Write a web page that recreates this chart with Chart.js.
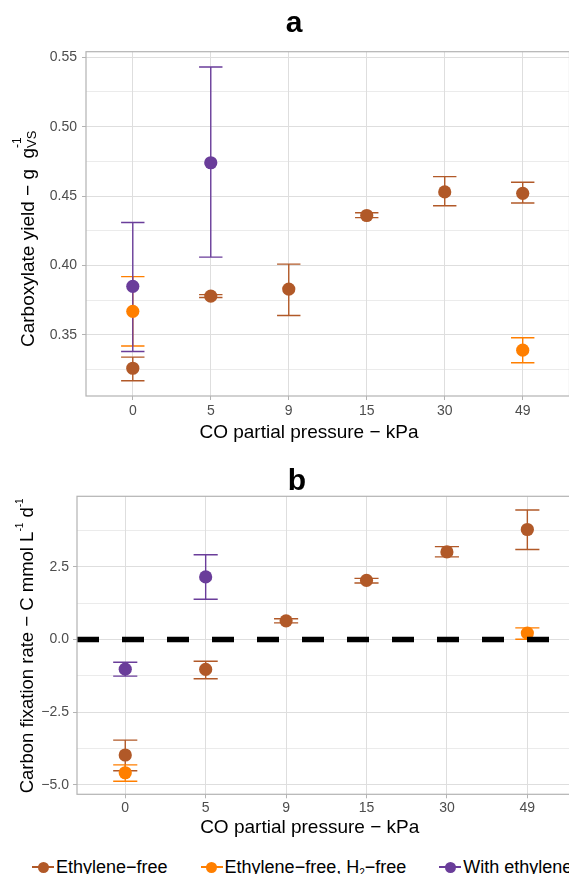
<!DOCTYPE html>
<html>
<head>
<meta charset="utf-8">
<script src="https://cdn.jsdelivr.net/npm/chart.js@4.4.1/dist/chart.umd.min.js"></script>
<style>
  html, body { margin: 0; padding: 0; background: #fff; }
  #wrap { position: relative; width: 569px; height: 874px; overflow: hidden; font-family: 'Liberation Sans', Arial, sans-serif; }
  #chartA { position: absolute; left: 0; top: 0; }
  #chartB { position: absolute; left: 0; top: 450px; }
  #legend { position: absolute; left: 32px; top: 858px; display: flex; gap: 33px; font-size: 18px; line-height: 18px; color: #000; white-space: nowrap; }
  .item { display: flex; align-items: center; height: 18px; }
  .key { position: relative; width: 22px; height: 12px; margin-right: 2px; flex: none; }
  .key::before { content: ''; position: absolute; left: 0; right: 0; top: 5px; height: 2px; background: var(--c); }
  .key::after { content: ''; position: absolute; left: 5.5px; top: 0.5px; width: 11px; height: 11px; border-radius: 50%; background: var(--c); }
  .sub { font-size: 10px; line-height: 0; position: relative; top: 3px; }
</style>
</head>
<body>
<div id="wrap">
  <canvas id="chartA" width="588" height="450"></canvas>
  <canvas id="chartB" width="594" height="400"></canvas>
  <div id="legend"></div>
</div>
<script>
const FONT = "'Liberation Sans', Arial, sans-serif";

// categories (CO partial pressure, kPa)
const categories = ['0', '5', '9', '15', '30', '49'];
const seriesNames = ['Ethylene−free', 'Ethylene−free, H₂−free', 'With ethylene'];
const seriesColors = ['#B15928', '#FF7F00', '#6A3D9A'];

// panel a - carboxylate yield
const yieldFree = [0.326, 0.378, 0.383, 0.436, 0.453, 0.452];
const yieldFreeLow = [0.317, 0.377, 0.364, 0.4345, 0.443, 0.445];
const yieldFreeHigh = [0.334, 0.379, 0.401, 0.438, 0.464, 0.460];
const yieldH2Free = [0.367, null, null, null, null, 0.339];
const yieldH2FreeLow = [0.342, null, null, null, null, 0.330];
const yieldH2FreeHigh = [0.392, null, null, null, null, 0.348];
const yieldEthylene = [0.385, 0.474, null, null, null, null];
const yieldEthyleneLow = [0.338, 0.406, null, null, null, null];
const yieldEthyleneHigh = [0.431, 0.543, null, null, null, null];
const yRangeA = [0.306, 0.554];
const yTicksA = [0.35, 0.40, 0.45, 0.50, 0.55];
const yTickLabelsA = ['0.35', '0.40', '0.45', '0.50', '0.55'];
const yMinorA = [0.325, 0.375, 0.425, 0.475, 0.525];

// panel b - carbon fixation rate
const rateFree = [-3.97, -1.03, 0.64, 2.03, 3.01, 3.78];
const rateFreeLow = [-4.51, -1.35, 0.57, 1.94, 2.84, 3.09];
const rateFreeHigh = [-3.46, -0.75, 0.71, 2.10, 3.19, 4.45];
const rateH2Free = [-4.58, null, null, null, null, 0.22];
const rateH2FreeLow = [-4.87, null, null, null, null, 0.01];
const rateH2FreeHigh = [-4.31, null, null, null, null, 0.40];
const rateEthylene = [-1.02, 2.15, null, null, null, null];
const rateEthyleneLow = [-1.26, 1.38, null, null, null, null];
const rateEthyleneHigh = [-0.78, 2.91, null, null, null, null];
const yRangeB = [-5.32, 4.92];
const yTicksB = [-5, -2.5, 0, 2.5];
const yTickLabelsB = ['−5.0', '−2.5', '0.0', '2.5'];
const yMinorB = [-3.75, -1.25, 1.25, 3.75];
const zeroLine = 0;

const capWidth = 0.3; // errorbar width in category units

function points(vals, lo, hi) {
    return vals.map((v, i) => ({ x: i, y: v, lo: lo[i], hi: hi[i] })).filter(p => p.y !== null);
}

function makeDatasets(groups) {
    return groups.map((g, k) => ({
        label: seriesNames[k],
        data: points(g[0], g[1], g[2]),
        backgroundColor: seriesColors[k],
        borderColor: seriesColors[k],
        borderWidth: 0,
        pointRadius: 6.6,
        pointHoverRadius: 6.6,
        showLine: false,
        order: 2 - k
    }));
}

// draws text made of pieces (sub/superscripts), optionally rotated
function drawRich(ctx, parts, x, y, angle, anchor) {
    ctx.save();
    ctx.translate(x, y);
    ctx.rotate(angle);
    ctx.textBaseline = 'alphabetic';
    ctx.textAlign = 'left';
    ctx.fillStyle = '#000';
    let groupStart = 0, groupEnd = 0;
    const placed = parts.map(p => {
        ctx.font = `${p.size}px ${FONT}`;
        const w = ctx.measureText(p.text).width;
        const start = p.stack ? groupStart : groupEnd;
        if (!p.stack) groupStart = start;
        groupEnd = Math.max(groupEnd, start + w);
        return { p, start };
    });
    const off = anchor === 'center' ? -groupEnd / 2 : 0;
    placed.forEach(({ p, start }) => {
        ctx.font = `${p.size}px ${FONT}`;
        ctx.fillText(p.text, start + off, -(p.rise || 0));
    });
    ctx.restore();
}

const errorBars = {
    id: 'errorBars',
    beforeDatasetsDraw(chart) {
        const { ctx } = chart;
        const xs = chart.scales.x, ys = chart.scales.y;
        chart.data.datasets.forEach(ds => {
            ctx.save();
            ctx.strokeStyle = ds.borderColor;
            ctx.lineWidth = 1.4;
            ds.data.forEach(p => {
                const x = xs.getPixelForValue(p.x);
                const half = xs.getPixelForValue(p.x + capWidth / 2) - x;
                const yl = ys.getPixelForValue(p.lo), yh = ys.getPixelForValue(p.hi);
                ctx.beginPath();
                ctx.moveTo(x, yl); ctx.lineTo(x, yh);
                ctx.moveTo(x - half, yl); ctx.lineTo(x + half, yl);
                ctx.moveTo(x - half, yh); ctx.lineTo(x + half, yh);
                ctx.stroke();
            });
            ctx.restore();
        });
    }
};

const frame = {
    id: 'frame',
    afterDatasetsDraw(chart, args, opts) {
        const { ctx, chartArea: a } = chart;
        if (opts.zero !== undefined) {
            const y = chart.scales.y.getPixelForValue(opts.zero);
            ctx.save();
            ctx.strokeStyle = '#000';
            ctx.lineWidth = 5.5;
            ctx.setLineDash([22, 23]);
            ctx.beginPath();
            ctx.moveTo(a.left, y);
            ctx.lineTo(a.right, y);
            ctx.stroke();
            ctx.restore();
        }
        ctx.save();
        ctx.strokeStyle = '#b3b3b3';
        ctx.lineWidth = 1.2;
        ctx.strokeRect(a.left, a.top, a.right - a.left, a.bottom - a.top);
        ctx.restore();
    },
    afterDraw(chart, args, opts) {
        const { ctx } = chart;
        drawRich(ctx, opts.yTitle, opts.yTitlePos[0], opts.yTitlePos[1], -Math.PI / 2, 'start');
        drawRich(ctx, opts.xTitle, opts.xTitlePos[0], opts.xTitlePos[1], 0, 'center');
    }
};

function makeChart(id, cfg) {
    const major = cfg.ticks, minor = cfg.minor;
    const isMajor = c => c.tick && major.includes(c.tick.value);
    return new Chart(document.getElementById(id), {
        type: 'scatter',
        data: { datasets: cfg.datasets },
        plugins: [errorBars, frame],
        options: {
            responsive: false,
            animation: false,
            events: [],
            layout: { padding: 0 },
            plugins: {
                legend: { display: false },
                tooltip: { enabled: false },
                title: {
                    display: true, text: cfg.title, color: '#000',
                    font: { family: FONT, size: 30, weight: 'bold', lineHeight: 1 },
                    padding: cfg.titlePad
                },
                frame: cfg.frame
            },
            scales: {
                x: {
                    type: 'linear',
                    min: -0.6, max: categories.length - 0.4,
                    afterBuildTicks: s => { s.ticks = categories.map((c, i) => ({ value: i })); },
                    ticks: {
                        callback: v => categories[v], color: '#4d4d4d',
                        font: { family: FONT, size: 14 }, padding: cfg.xPad,
                        autoSkip: false, maxRotation: 0
                    },
                    grid: { color: '#dedede', lineWidth: 1, tickLength: 4, tickColor: '#b3b3b3' },
                    border: { display: false },
                    afterFit: s => { s.height = cfg.xHeight; }
                },
                y: {
                    min: cfg.range[0], max: cfg.range[1], bounds: 'data',
                    afterBuildTicks: s => {
                        s.ticks = major.concat(minor).sort((a, b) => a - b).map(v => ({ value: v }));
                    },
                    ticks: {
                        callback: v => { const k = major.indexOf(v); return k >= 0 ? cfg.labels[k] : ''; },
                        color: '#4d4d4d', font: { family: FONT, size: 14 }, padding: cfg.yPad
                    },
                    grid: {
                        color: '#dedede',
                        lineWidth: c => isMajor(c) ? 1 : 0.6,
                        tickLength: 4,
                        tickColor: c => isMajor(c) ? '#b3b3b3' : 'rgba(0,0,0,0)'
                    },
                    border: { display: false },
                    afterFit: s => { s.width = cfg.yWidth; }
                },
                pad: {
                    type: 'linear', position: 'right', display: true,
                    grid: { display: false, drawTicks: false },
                    ticks: { display: false },
                    border: { display: false },
                    afterFit: s => { s.width = cfg.rightPad; }
                }
            }
        }
    });
}

const xTitleText = [{ text: 'CO partial pressure − kPa', size: 19 }];

makeChart('chartA', {
    title: 'a',
    titlePad: { top: 8.9, bottom: 12.8 },
    datasets: makeDatasets([
        [yieldFree, yieldFreeLow, yieldFreeHigh],
        [yieldH2Free, yieldH2FreeLow, yieldH2FreeHigh],
        [yieldEthylene, yieldEthyleneLow, yieldEthyleneHigh]
    ]),
    range: yRangeA, ticks: yTicksA, labels: yTickLabelsA, minor: yMinorA,
    xHeight: 54, xPad: 3, yWidth: 86, yPad: 5, rightPad: 18.5,
    frame: {
        yTitle: [
            { text: 'Carboxylate yield − g  g', size: 19 },
            { text: 'VS', size: 13, rise: -2.5 },
            { text: '-1', size: 12, rise: 12.5, stack: true }
        ],
        yTitlePos: [33.5, 347],
        xTitle: xTitleText,
        xTitlePos: [309, 437.5]
    }
});

makeChart('chartB', {
    title: 'b',
    titlePad: { top: 16.3, bottom: 0 },
    datasets: makeDatasets([
        [rateFree, rateFreeLow, rateFreeHigh],
        [rateH2Free, rateH2FreeLow, rateH2FreeHigh],
        [rateEthylene, rateEthyleneLow, rateEthyleneHigh]
    ]),
    range: yRangeB, ticks: yTicksB, labels: yTickLabelsB, minor: yMinorB,
    xHeight: 55.7, xPad: 1, yWidth: 77, yPad: 4, rightPad: 18.4,
    frame: {
        zero: zeroLine,
        yTitle: [
            { text: 'Carbon fixation rate − C mmol L', size: 18.5 },
            { text: '-1', size: 10, rise: 10 },
            { text: ' d', size: 18.5 },
            { text: '-1', size: 10, rise: 10 }
        ],
        yTitlePos: [33.3, 343.3],
        xTitle: xTitleText,
        xTitlePos: [309.7, 383.3]
    }
});

// shared legend, subscript digit drawn smaller
const legend = document.getElementById('legend');
seriesNames.forEach((name, i) => {
    const item = document.createElement('div');
    item.className = 'item';
    const key = document.createElement('span');
    key.className = 'key';
    key.style.setProperty('--c', seriesColors[i]);
    const lab = document.createElement('span');
    name.split('₂').forEach((piece, j) => {
        if (j > 0) {
            const s = document.createElement('span');
            s.className = 'sub';
            s.textContent = '2';
            lab.appendChild(s);
        }
        lab.appendChild(document.createTextNode(piece));
    });
    item.appendChild(key);
    item.appendChild(lab);
    legend.appendChild(item);
});
</script>
</body>
</html>
